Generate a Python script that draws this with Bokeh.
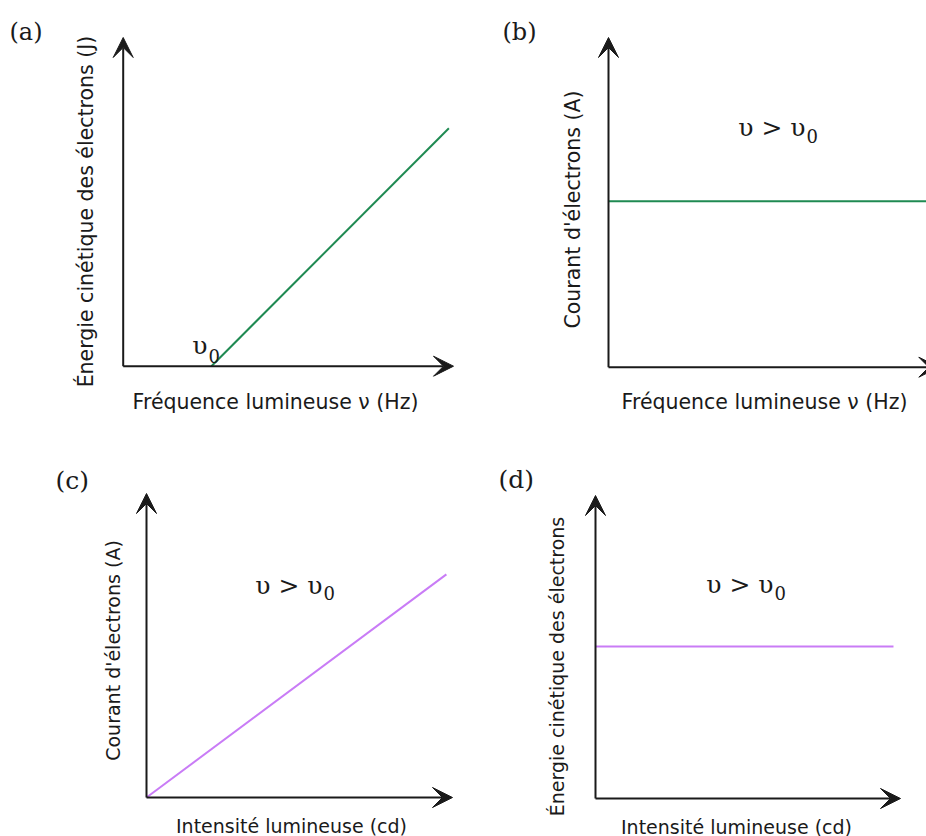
import math
from bokeh.plotting import figure
from bokeh.models import Range1d, Arrow, VeeHead
from bokeh.layouts import gridplot
from bokeh.core.properties import value
from bokeh.embed import file_html
from bokeh.resources import INLINE

# ---------------- data (arbitrary units, axes run from 0 to AX_MAX) ----------------
AX_MAX = 10.0

# (a) kinetic energy vs frequency : zero below threshold v0, linear above
freq_a = [2.67, 9.86]
energy_a = [0.0, 7.24]

# (b) current vs frequency (v > v0): constant
freq_b = [0.0, 10.0]
current_b = [5.03, 5.03]

# (c) current vs intensity: proportional
intens_c = [0.0, 9.80]
current_c = [0.0, 7.34]

# (d) kinetic energy vs intensity: constant
intens_d = [0.0, 9.77]
energy_d = [5.02, 5.02]

panel_tags = ["(a)", "(b)", "(c)", "(d)"]
x_titles = ["Fréquence lumineuse ν (Hz)", "Fréquence lumineuse ν (Hz)",
            "Intensité lumineuse (cd)", "Intensité lumineuse (cd)"]
y_titles = ["Énergie cinétique des électrons (J)", "Courant d'électrons (A)",
            "Courant d'électrons (A)", "Énergie cinétique des électrons"]
cond_main = "υ > υ"
cond_sub = "0"
v0_main = "υ"

# ---------------- styles ----------------
AXC = "#1a1a1a"
GREEN = "#1f8a52"
PURPLE = "#c97cf6"
SANS = "DejaVu Sans"
SERIF = "DejaVu Serif"
W, H = 463, 418


def make_panel(origin, tip):
    """Panel whose frame fills the whole canvas; origin/tip are pixel positions."""
    ox, oy = origin
    tx, ty = tip
    sx = (tx - ox) / AX_MAX
    sy = (oy - ty) / AX_MAX
    p = figure(width=W, height=H,
               x_range=Range1d((0 - ox) / sx, (W - ox) / sx),
               y_range=Range1d((oy - H) / sy, (oy - 0) / sy),
               min_border=0, min_border_left=0, min_border_right=0,
               min_border_top=0, min_border_bottom=0,
               x_axis_location=None, y_axis_location=None,
               output_backend="svg", toolbar_location=None, title=None)
    p.outline_line_color = None
    p.xgrid.visible = False
    p.ygrid.visible = False
    p.background_fill_color = "white"
    p.border_fill_color = "white"
    for xe, ye in ((AX_MAX, 0), (0, AX_MAX)):
        p.add_layout(Arrow(end=VeeHead(size=20, line_color=AXC, fill_color=AXC, line_width=1),
                           x_start=0, y_start=0, x_end=xe, y_end=ye,
                           line_color=AXC, line_width=2))

    def to_data(px, py):
        return (px - ox) / sx, (oy - py) / sy
    return p, to_data


def put_text(p, to_data, px, py, txt, font, size, align="center", baseline="middle", angle=0.0):
    x, y = to_data(px, py)
    p.text(x=[x], y=[y], text=[txt], text_font=value(font), text_font_size=size,
           text_color=AXC, text_align=align, text_baseline=baseline, angle=angle)


def titles(p, to_data, i, xc, yc, fsize):
    put_text(p, to_data, xc[0], xc[1], x_titles[i], SANS, fsize)
    put_text(p, to_data, yc[0], yc[1], y_titles[i], SANS, fsize, angle=math.pi / 2)


def cond(p, to_data, px, py_main, py_sub, main=cond_main):
    put_text(p, to_data, px, py_main, main, SERIF, "25px", align="right", baseline="alphabetic")
    put_text(p, to_data, px + 1, py_sub, cond_sub, SERIF, "18px", align="left", baseline="alphabetic")


# (a)
pa, da = make_panel((122.7, 365.7), (453, 37))
pa.line(freq_a, energy_a, line_color=GREEN, line_width=2)
titles(pa, da, 0, (275, 401), (85, 211), "20.5px")
cond(pa, da, 207, 345, 355, main=v0_main)
put_text(pa, da, 9, 31, panel_tags[0], SERIF, "24px", align="left")

# (b)
pb, db = make_panel((145, 366.7), (475.3, 37))
pb.line(freq_b, current_b, line_color=GREEN, line_width=2)
titles(pb, db, 1, (301, 401), (109, 209), "20.5px")
cond(pb, db, 342, 127, 135)
put_text(pb, db, 39, 31, panel_tags[1], SERIF, "24px", align="left")

# (c)
pc, dc = make_panel((146, 379), (452, 75))
pc.line(intens_c, current_c, line_color=PURPLE, line_width=2)
titles(pc, dc, 2, (291, 407), (112, 232), "19px")
cond(pc, dc, 322, 167, 174)
put_text(pc, dc, 55, 62, panel_tags[2], SERIF, "25px", align="left")

# (d)
pd_, dd = make_panel((132, 380), (437, 77))
pd_.line(intens_d, energy_d, line_color=PURPLE, line_width=2)
titles(pd_, dd, 3, (273, 408), (93, 248), "19px")
cond(pd_, dd, 310, 166, 174)
put_text(pd_, dd, 35, 61, panel_tags[3], SERIF, "25px", align="left")

grid = gridplot([[pa, pb], [pc, pd_]], toolbar_location=None)

open("out.html", "w").write(file_html(grid, INLINE))
